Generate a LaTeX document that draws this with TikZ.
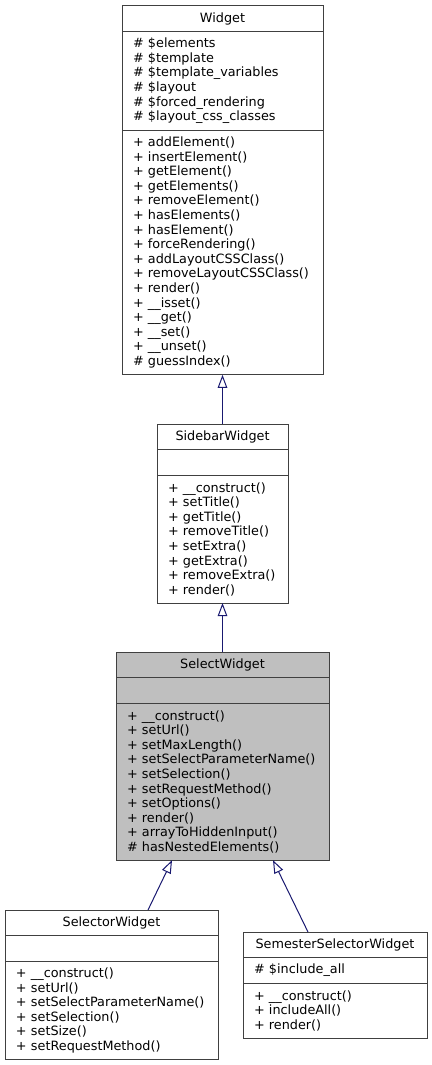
\documentclass[tikz,border=0pt]{standalone}
\usepackage{fontspec}
\setmainfont{DejaVu Sans}
\usetikzlibrary{positioning,arrows.meta}
\definecolor{edgeblue}{HTML}{191970}
\definecolor{boxline}{HTML}{404040}
\definecolor{current}{HTML}{BFBFBF}
\begin{document}
\begin{tikzpicture}[
    x=1pt, y=1pt,
    part/.style={
        rectangle,
        draw=boxline,
        line width=1pt,
        fill=white,
        outer sep=0pt,
        inner xsep=11pt,
        inner ysep=0pt,
        font=\fontsize{12.8}{14.6}\selectfont,
        align=left
    },
    title/.style={part, align=center, minimum height=25.6pt},
    rows/.style={minimum height={#1*14.6pt+11pt}},
    wd/.style={text width=#1},
    focus/.style={fill=current},
    inherit/.style={
        draw=edgeblue,
        line width=1pt,
        -{Triangle[open, length=13pt, width=9.5pt]}
    }
]
\useasboundingbox (0,0) rectangle (431,-1065);

% Widget
\node[title, wd=179pt, anchor=north] (widget) at (222.5,-6) {Widget};
\node[part, wd=179pt, rows=6, below=0pt of widget] (widgetattr) {\#~\$elements\\\#~\$template\\\#~\$template\_variables\\\#~\$layout\\\#~\$forced\_rendering\\\#~\$layout\_css\_classes};
\node[part, wd=179pt, rows=16, below=0pt of widgetattr] (widgetops) {+~addElement()\\+~insertElement()\\+~getElement()\\+~getElements()\\+~removeElement()\\+~hasElements()\\+~hasElement()\\+~forceRendering()\\+~addLayoutCSSClass()\\+~removeLayoutCSSClass()\\+~render()\\+~\_\_isset()\\+~\_\_get()\\+~\_\_set()\\+~\_\_unset()\\\#~guessIndex()};

% SidebarWidget
\node[title, wd=109pt, anchor=north] (sidebar) at (222.5,-424) {SidebarWidget};
\node[part, wd=109pt, rows=1, below=0pt of sidebar] (sidebarattr) {};
\node[part, wd=109pt, rows=8, below=0pt of sidebarattr] (sidebarops) {+~\_\_construct()\\+~setTitle()\\+~getTitle()\\+~removeTitle()\\+~setExtra()\\+~getExtra()\\+~removeExtra()\\+~render()};

% SelectWidget
\node[title, focus, wd=191pt, anchor=north] (select) at (222.5,-652) {SelectWidget};
\node[part, focus, wd=191pt, rows=1, below=0pt of select] (selectattr) {};
\node[part, focus, wd=191pt, rows=10, below=0pt of selectattr] (selectops) {+~\_\_construct()\\+~setUrl()\\+~setMaxLength()\\+~setSelectParameterName()\\+~setSelection()\\+~setRequestMethod()\\+~setOptions()\\+~render()\\+~arrayToHiddenInput()\\\#~hasNestedElements()};

% SelectorWidget
\node[title, wd=191pt, anchor=north] (selector) at (111.5,-910) {SelectorWidget};
\node[part, wd=191pt, rows=1, below=0pt of selector] (selectorattr) {};
\node[part, wd=191pt, rows=6, below=0pt of selectorattr] (selectorops) {+~\_\_construct()\\+~setUrl()\\+~setSelectParameterName()\\+~setSelection()\\+~setSize()\\+~setRequestMethod()};

% SemesterSelectorWidget
\node[title, wd=162pt, anchor=north] (semester) at (335,-932) {SemesterSelectorWidget};
\node[part, wd=162pt, rows=1, below=0pt of semester] (semesterattr) {\#~\$include\_all};
\node[part, wd=162pt, rows=3, below=0pt of semesterattr] (semesterops) {+~\_\_construct()\\+~includeAll()\\+~render()};

% Inheritance
\draw[inherit] (sidebar.north) -- (widgetops.south);
\draw[inherit] (select.north) -- (sidebarops.south);
\draw[inherit] ([xshift=36.5pt]selector.north) -- ([xshift=-50.5pt]selectops.south);
\draw[inherit] ([xshift=-27pt]semester.north) -- ([xshift=50.5pt]selectops.south);

\end{tikzpicture}
\end{document}
